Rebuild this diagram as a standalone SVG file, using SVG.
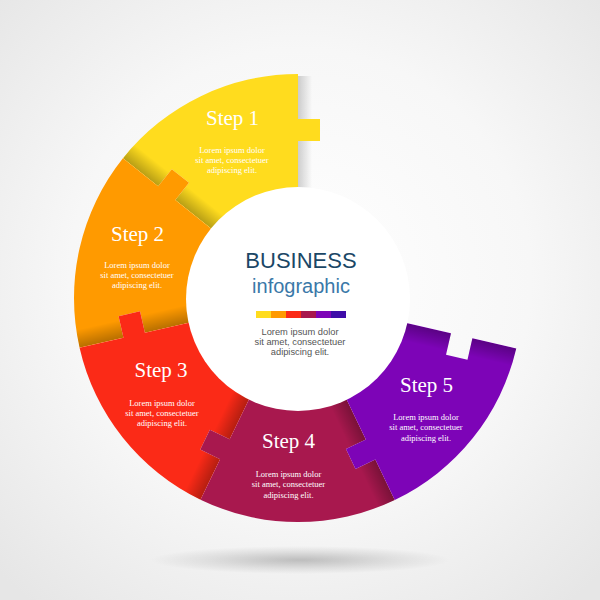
<svg xmlns="http://www.w3.org/2000/svg" width="600" height="600" viewBox="0 0 600 600">
<defs>
<radialGradient id="bg" cx="300" cy="280" r="420" gradientUnits="userSpaceOnUse">
<stop offset="0" stop-color="#ffffff"/>
<stop offset="0.55" stop-color="#f7f7f7"/>
<stop offset="1" stop-color="#e6e6e6"/>
</radialGradient>
<radialGradient id="floor" cx="0.5" cy="0.5" r="0.5">
<stop offset="0" stop-color="#000" stop-opacity="0.22"/>
<stop offset="0.6" stop-color="#000" stop-opacity="0.08"/>
<stop offset="1" stop-color="#000" stop-opacity="0"/>
</radialGradient>
<linearGradient id="curl" x1="0" y1="0" x2="0" y2="18" gradientUnits="userSpaceOnUse">
<stop offset="0" stop-color="#000" stop-opacity="0.28"/>
<stop offset="1" stop-color="#000" stop-opacity="0"/>
</linearGradient>
<linearGradient id="edgeShadow" x1="0" y1="0" x2="1" y2="0">
<stop offset="0" stop-color="#000" stop-opacity="0.18"/>
<stop offset="1" stop-color="#000" stop-opacity="0"/>
</linearGradient>
<path id="piece" d="M0,0 L157,0 L157,22 L179,22 L179,0 L224,0 A224,224 0 0 1 139.75,175.06 L111.67,139.89 L94.48,153.62 L80.76,136.43 L97.95,122.70 Z"/>
<clipPath id="pc"><use href="#piece"/></clipPath>
</defs>
<style>
.step{font-family:"Liberation Serif","Times New Roman",serif;font-size:21px;fill:#ffffff;text-anchor:middle}
.body{font-family:"Liberation Serif","Times New Roman",serif;font-size:8.5px;fill:#ffffff;text-anchor:middle}
.cbody{font-family:"Liberation Sans",Arial,sans-serif;font-size:9.3px;fill:#555555;text-anchor:middle}
</style>
<rect x="0" y="0" width="600" height="600" fill="url(#bg)"/>
<ellipse cx="300" cy="560" rx="150" ry="14" fill="url(#floor)"/>
<rect x="298" y="76" width="14" height="112" fill="url(#edgeShadow)"/>
<g id="connectors"></g>
<g id="step1" transform="translate(298,298) rotate(218.6)">
<use href="#piece" fill="#ffdc1e"/>
<rect x="0" y="0" width="224" height="18" fill="url(#curl)" clip-path="url(#pc)"/>
</g>
<g id="step2" transform="translate(298,298) rotate(167.2)">
<use href="#piece" fill="#ff9a00"/>
<rect x="0" y="0" width="224" height="18" fill="url(#curl)" clip-path="url(#pc)"/>
</g>
<g id="step3" transform="translate(298,298) rotate(115.8)">
<use href="#piece" fill="#fb2a17"/>
<rect x="0" y="0" width="224" height="18" fill="url(#curl)" clip-path="url(#pc)"/>
</g>
<g id="step4" transform="translate(298,298) rotate(64.4)">
<use href="#piece" fill="#a8184e"/>
<rect x="0" y="0" width="224" height="18" fill="url(#curl)" clip-path="url(#pc)"/>
</g>
<g id="step5" transform="translate(298,298) rotate(13)">
<use href="#piece" fill="#7d04b7"/>
<rect x="0" y="0" width="224" height="18" fill="url(#curl)" clip-path="url(#pc)"/>
</g>
<g id="center">
<circle cx="298" cy="299" r="112" fill="#ffffff"/>
<text x="301" y="268" font-family="Liberation Sans, Arial, sans-serif" font-size="22" fill="#1b4766" text-anchor="middle">BUSINESS</text>
<text x="301" y="293" font-family="Liberation Sans, Arial, sans-serif" font-size="20" fill="#3a78a8" text-anchor="middle">infographic</text>
<rect x="256" y="311" width="15" height="7" fill="#ffdc1e"/>
<rect x="271" y="311" width="15" height="7" fill="#ff9a00"/>
<rect x="286" y="311" width="15" height="7" fill="#fb2a17"/>
<rect x="301" y="311" width="15" height="7" fill="#a8184e"/>
<rect x="316" y="311" width="15" height="7" fill="#7d04b7"/>
<rect x="331" y="311" width="15" height="7" fill="#3e0ca8"/>
<text class="cbody" x="300" y="334.5">Lorem ipsum dolor</text>
<text class="cbody" x="300" y="344.5">sit amet, consectetuer</text>
<text class="cbody" x="300" y="354.5">adipiscing elit.</text>
</g>
<g id="labels">
<text class="step" x="232.5" y="125">Step 1</text>
<text class="body" x="232" y="153">Lorem ipsum dolor</text>
<text class="body" x="232" y="163">sit amet, consectetuer</text>
<text class="body" x="232" y="173">adipiscing elit.</text>
<text class="step" x="137.5" y="241">Step 2</text>
<text class="body" x="137" y="267.5">Lorem ipsum dolor</text>
<text class="body" x="137" y="277.7">sit amet, consectetuer</text>
<text class="body" x="137" y="288">adipiscing elit.</text>
<text class="step" x="161" y="377">Step 3</text>
<text class="body" x="162" y="405.5">Lorem ipsum dolor</text>
<text class="body" x="162" y="415.7">sit amet, consectetuer</text>
<text class="body" x="162" y="426">adipiscing elit.</text>
<text class="step" x="288.5" y="448">Step 4</text>
<text class="body" x="288.5" y="477">Lorem ipsum dolor</text>
<text class="body" x="288.5" y="487">sit amet, consectetuer</text>
<text class="body" x="288.5" y="497.5">adipiscing elit.</text>
<text class="step" x="426.5" y="392">Step 5</text>
<text class="body" x="426" y="420">Lorem ipsum dolor</text>
<text class="body" x="426" y="430.3">sit amet, consectetuer</text>
<text class="body" x="426" y="440.7">adipiscing elit.</text>
</g>
</svg>
